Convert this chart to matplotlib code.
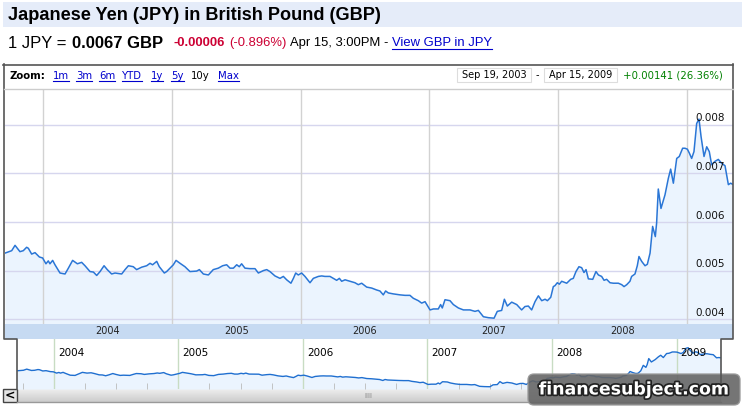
import numpy as np
import matplotlib.pyplot as plt
from matplotlib.patches import Rectangle, FancyBboxPatch
from matplotlib.ticker import NullLocator
from matplotlib.transforms import blended_transform_factory
import matplotlib.patheffects as pe

W, H = 742, 407

# daily-ish closes (decimal year, GBP per 1 JPY)
DATES = np.array([
    2003.705, 2003.757, 2003.783, 2003.821, 2003.847, 2003.873, 2003.886, 2003.912, 2003.938, 2003.972, 2003.997,
    2004.023, 2004.041, 2004.054, 2004.075, 2004.093, 2004.132, 2004.171, 2004.197, 2004.230, 2004.267,
    2004.300, 2004.326, 2004.365, 2004.391, 2004.417, 2004.443, 2004.474, 2004.499, 2004.533, 2004.559,
    2004.611, 2004.637, 2004.663, 2004.701, 2004.727, 2004.766, 2004.805, 2004.831, 2004.851, 2004.883,
    2004.903, 2004.942, 2004.960, 2004.986,
    2005.012, 2005.033, 2005.064, 2005.102, 2005.141, 2005.193, 2005.214, 2005.245, 2005.284, 2005.322,
    2005.361, 2005.395, 2005.426, 2005.452, 2005.478, 2005.504, 2005.524, 2005.542, 2005.568, 2005.607,
    2005.646, 2005.672, 2005.711, 2005.737, 2005.762, 2005.801, 2005.840, 2005.866, 2005.892, 2005.925,
    2005.944, 2005.962, 2005.982,
    2006.008, 2006.034, 2006.073, 2006.099, 2006.138, 2006.164, 2006.189, 2006.228, 2006.254, 2006.280,
    2006.301, 2006.319, 2006.345, 2006.384, 2006.422, 2006.448, 2006.474, 2006.513, 2006.552, 2006.591,
    2006.616, 2006.642, 2006.660, 2006.681, 2006.720, 2006.772, 2006.811, 2006.849, 2006.875, 2006.914,
    2006.940, 2006.966,
    2007.005, 2007.031, 2007.069, 2007.087, 2007.100, 2007.121, 2007.160, 2007.186, 2007.225, 2007.264,
    2007.315, 2007.354, 2007.380, 2007.419, 2007.458, 2007.502, 2007.527, 2007.561, 2007.582, 2007.605,
    2007.639, 2007.678, 2007.716, 2007.742, 2007.768, 2007.794, 2007.820, 2007.846, 2007.872, 2007.898,
    2007.916, 2007.942, 2007.962, 2007.975, 2007.993,
    2008.009, 2008.027, 2008.066, 2008.097, 2008.117, 2008.138, 2008.161, 2008.182, 2008.200, 2008.216,
    2008.234, 2008.268, 2008.293, 2008.312, 2008.337, 2008.356, 2008.376, 2008.402, 2008.428, 2008.467,
    2008.493, 2008.511, 2008.532, 2008.557, 2008.570, 2008.596, 2008.614, 2008.627, 2008.648, 2008.674,
    2008.692, 2008.713, 2008.733, 2008.754, 2008.764, 2008.777, 2008.798, 2008.829, 2008.855, 2008.873,
    2008.894, 2008.920, 2008.940, 2008.966, 2008.984,
    2009.003, 2009.018, 2009.036, 2009.054, 2009.075, 2009.093, 2009.109, 2009.132, 2009.153, 2009.173,
    2009.191, 2009.217, 2009.243, 2009.269, 2009.295, 2009.321, 2009.339, 2009.352,
])
RATE = np.array([
    0.00536, 0.00541, 0.00552, 0.00539, 0.00541, 0.00548, 0.00546, 0.00534, 0.00537, 0.00528, 0.00526,
    0.00514, 0.00520, 0.00514, 0.00521, 0.00512, 0.00495, 0.00493, 0.00505, 0.00521, 0.00514,
    0.00517, 0.00510, 0.00498, 0.00497, 0.00490, 0.00498, 0.00510, 0.00502, 0.00493, 0.00495,
    0.00493, 0.00502, 0.00510, 0.00508, 0.00502, 0.00507, 0.00510, 0.00515, 0.00512, 0.00519,
    0.00508, 0.00495, 0.00498, 0.00505,
    0.00512, 0.00521, 0.00515, 0.00508, 0.00498, 0.00499, 0.00502, 0.00493, 0.00491, 0.00502,
    0.00505, 0.00510, 0.00512, 0.00505, 0.00505, 0.00512, 0.00508, 0.00514, 0.00505, 0.00504,
    0.00504, 0.00495, 0.00500, 0.00502, 0.00498, 0.00489, 0.00484, 0.00488, 0.00481, 0.00474,
    0.00484, 0.00495, 0.00491,
    0.00495, 0.00488, 0.00475, 0.00484, 0.00488, 0.00489, 0.00488, 0.00488, 0.00484, 0.00480,
    0.00484, 0.00478, 0.00481, 0.00478, 0.00475, 0.00471, 0.00474, 0.00466, 0.00464, 0.00460,
    0.00458, 0.00450, 0.00458, 0.00454, 0.00452, 0.00450, 0.00449, 0.00449, 0.00443, 0.00438,
    0.00433, 0.00436,
    0.00419, 0.00421, 0.00421, 0.00430, 0.00423, 0.00440, 0.00438, 0.00430, 0.00423, 0.00419,
    0.00419, 0.00416, 0.00418, 0.00405, 0.00403, 0.00402, 0.00416, 0.00418, 0.00441, 0.00427,
    0.00435, 0.00430, 0.00419, 0.00426, 0.00427, 0.00419, 0.00436, 0.00448, 0.00438, 0.00441,
    0.00438, 0.00445, 0.00467, 0.00469, 0.00475,
    0.00472, 0.00478, 0.00474, 0.00482, 0.00484, 0.00498, 0.00508, 0.00506, 0.00496, 0.00502,
    0.00483, 0.00482, 0.00498, 0.00491, 0.00488, 0.00480, 0.00482, 0.00475, 0.00474, 0.00474,
    0.00471, 0.00467, 0.00471, 0.00478, 0.00488, 0.00493, 0.00510, 0.00529, 0.00519, 0.00510,
    0.00513, 0.00536, 0.00591, 0.00570, 0.00598, 0.00668, 0.00628, 0.00656, 0.00690, 0.00709,
    0.00680, 0.00731, 0.00735, 0.00752, 0.00752,
    0.00750, 0.00742, 0.00731, 0.00745, 0.00803, 0.00812, 0.00776, 0.00735, 0.00755, 0.00745,
    0.00718, 0.00725, 0.00729, 0.00721, 0.00716, 0.00677, 0.00680, 0.00678,
])

YEARS = [2004, 2005, 2006, 2007, 2008, 2009]
BAND_YEARS = [2004, 2005, 2006, 2007, 2008]
RATE_TICKS = [0.004, 0.005, 0.006, 0.007, 0.008]
ZOOM_LINKS = ['1m', '3m', '6m', 'YTD', '1y', '5y', '10y', 'Max']
ZOOM_X = [53, 76, 99, 122, 151, 171, 191, 218]
XLIM = (2003.705, 2009.357)

LINE = '#2a76d6'
FILL = '#ebf4fe'
SANS = 'Liberation Sans'
VERD = 'DejaVu Sans'


def rect(x0, y0, x1, y1):
    return [x0 / W, 1 - y1 / H, (x1 - x0) / W, (y1 - y0) / H]


fig = plt.figure(figsize=(W / 100, H / 100), dpi=100)
fig.patch.set_facecolor('white')

bg = fig.add_axes([0, 0, 1, 1], zorder=0)
bg.set_xlim(0, W); bg.set_ylim(H, 0); bg.axis('off')

# header
bg.add_patch(Rectangle((3, 2), 739, 25, color='#e5ecf9', lw=0))
bg.text(8, 15, 'Japanese Yen (JPY) in British Pound (GBP)', fontsize=13.1,
        fontweight='bold', family=SANS, va='center')
bg.text(8, 43, '1 JPY =', fontsize=12, family=SANS, va='center')
bg.text(72, 43, '0.0067 GBP', fontsize=12, fontweight='bold', family=SANS, va='center')
bg.text(173, 43, '-0.00006', fontsize=9.4, fontweight='bold', family=SANS, va='center', color='#cc0033')
bg.text(229, 43, '(-0.896%)', fontsize=9.4, family=SANS, va='center', color='#cc0033')
bg.text(290, 43, 'Apr 15, 3:00PM -', fontsize=9.4, family=SANS, va='center')
links = [bg.text(392, 43, 'View GBP in JPY', fontsize=9.4, family=SANS, va='center', color='#0000cc')]

# zoom bar
bg.text(10, 76, 'Zoom:', fontsize=7.3, fontweight='bold', family=VERD, va='center')
for lab, x in zip(ZOOM_LINKS, ZOOM_X):
    t = bg.text(x, 76, lab, fontsize=7.3, family=VERD, va='center',
                color='black' if lab == '10y' else '#0000cc')
    if lab != '10y':
        links.append(t)
bg.add_patch(Rectangle((457, 68), 74, 14, fc='white', ec='#dddddd', lw=0.8))
bg.text(494, 75.5, 'Sep 19, 2003', fontsize=7, family=VERD, ha='center', va='center')
bg.text(537, 75.5, '-', fontsize=7, family=VERD, ha='center', va='center')
bg.add_patch(Rectangle((544, 68), 73, 14, fc='white', ec='#dddddd', lw=0.8))
bg.text(580.5, 75.5, 'Apr 15, 2009', fontsize=7, family=VERD, ha='center', va='center')
bg.text(623, 75.5, '+0.00141 (26.36%)', fontsize=7.3, family=VERD, va='center', color='#008000')

# scrollbar
grad = np.linspace(0.93, 0.80, 20).reshape(-1, 1)
bg.imshow(grad, cmap='gray', vmin=0, vmax=1, extent=(17, 721, 402, 389), aspect='auto', zorder=1)
bg.add_patch(Rectangle((3, 389), 14, 13, fc='#e4e4e4', ec='#444444', lw=1, zorder=2))
bg.text(10, 395.5, '<', fontsize=9, fontweight='bold', family=VERD, ha='center', va='center', zorder=3)
bg.plot([17, 721], [402, 402], color='#999999', lw=1, zorder=2)
bg.text(368, 396, 'IIII', fontsize=5, family=VERD, ha='center', va='center', color='#888888', zorder=3)
bg.set_xlim(0, W); bg.set_ylim(H, 0)

# main chart
ax = fig.add_axes(rect(5, 89, 733, 324), zorder=2)
ax.fill_between(DATES, RATE, 0.0039, color=FILL, lw=0, zorder=1)
for v in RATE_TICKS:
    ax.axhline(v, color='#d6d6ee', lw=1, zorder=1.5)
for y in YEARS:
    ax.axvline(y, color='#d2d2d2', lw=1, zorder=1.5)
ax.plot(DATES, RATE, color=LINE, lw=1.1, zorder=2)
ax.set_xlim(XLIM); ax.set_ylim(0.0039, 0.00874)
ax.axis('off')
tr = blended_transform_factory(ax.transAxes, ax.transData)
for v in RATE_TICKS:
    ax.text(0.949, v + 0.00003, f'{v:.3f}', transform=tr, va='bottom', fontsize=7.5,
            family=VERD, color='#111111', zorder=3)

# year band
bx = fig.add_axes(rect(5, 324, 733, 339), zorder=2)
bx.set_facecolor('#c6daf2')
bx.set_xlim(XLIM); bx.set_ylim(0, 1)
bx.set_xticks([]); bx.set_yticks([])
for s in bx.spines.values():
    s.set_visible(False)
for y in BAND_YEARS:
    bx.text(y + 0.5, 0.5, str(y), ha='center', va='center', fontsize=7, family=VERD, color='#222222')

# navigator
nx = fig.add_axes(rect(17, 339, 721, 389), zorder=2)
nx.set_yscale('log')
nx.set_xlim(XLIM); nx.set_ylim(0.00386, 0.0095)
nx.fill_between(DATES, RATE, 0.00386, color=FILL, lw=0, zorder=1)
for y in YEARS:
    nx.axvline(y, color='#c8dcc3', lw=1, zorder=1.5)
    nx.annotate(str(y), (y, 1), xycoords=('data', 'axes fraction'), xytext=(2.9, -10),
                textcoords='offset points', va='center', fontsize=7.5, family=VERD)
nx.plot(DATES, RATE, color='#1f6fd0', lw=1.0, zorder=2)
nx.yaxis.set_major_locator(NullLocator()); nx.yaxis.set_minor_locator(NullLocator())
nx.set_xticks(YEARS)
nx.set_xticks(np.arange(2003.75, 2009.35, 0.25), minor=True)
nx.tick_params(which='major', length=0, labelbottom=False)
nx.tick_params(which='minor', direction='in', length=4, color='#bbbbbb', bottom=True)
for s in nx.spines.values():
    s.set_visible(False)

# frame + watermark overlay
fg = fig.add_axes([0, 0, 1, 1], zorder=5)
fg.patch.set_alpha(0)
fg.set_xlim(0, W); fg.set_ylim(H, 0); fg.axis('off')
fc = '#555555'
fg.plot([3, 733], [64.5, 64.5], color=fc, lw=1.2)
fg.plot([3.5, 3.5, 17, 17], [64, 339, 339, 389], color=fc, lw=1.2)
fg.plot([733, 733, 721, 721], [64, 339, 339, 389], color=fc, lw=1.2)
fg.plot([4, 733], [88.5, 88.5], color='#cccccc', lw=1)

fg.add_patch(FancyBboxPatch((528, 374), 212, 31, boxstyle='round,pad=0,rounding_size=6',
                            fc='#666666', ec='#999999', lw=1, alpha=0.9))
fg.text(634, 389.5, 'financesubject.com', fontsize=12.5, fontweight='bold', family=VERD,
        color='white', ha='center', va='center',
        path_effects=[pe.withStroke(linewidth=2.5, foreground='#222222')])

# underline the links
fig.canvas.draw()
for t in links:
    bb = t.get_window_extent()
    yy = H - bb.y0 - 0.5
    bg.plot([bb.x0, bb.x1], [yy, yy], color=t.get_color(), lw=0.8)
bg.set_xlim(0, W); bg.set_ylim(H, 0)

fig.savefig('out.png', dpi=100)
